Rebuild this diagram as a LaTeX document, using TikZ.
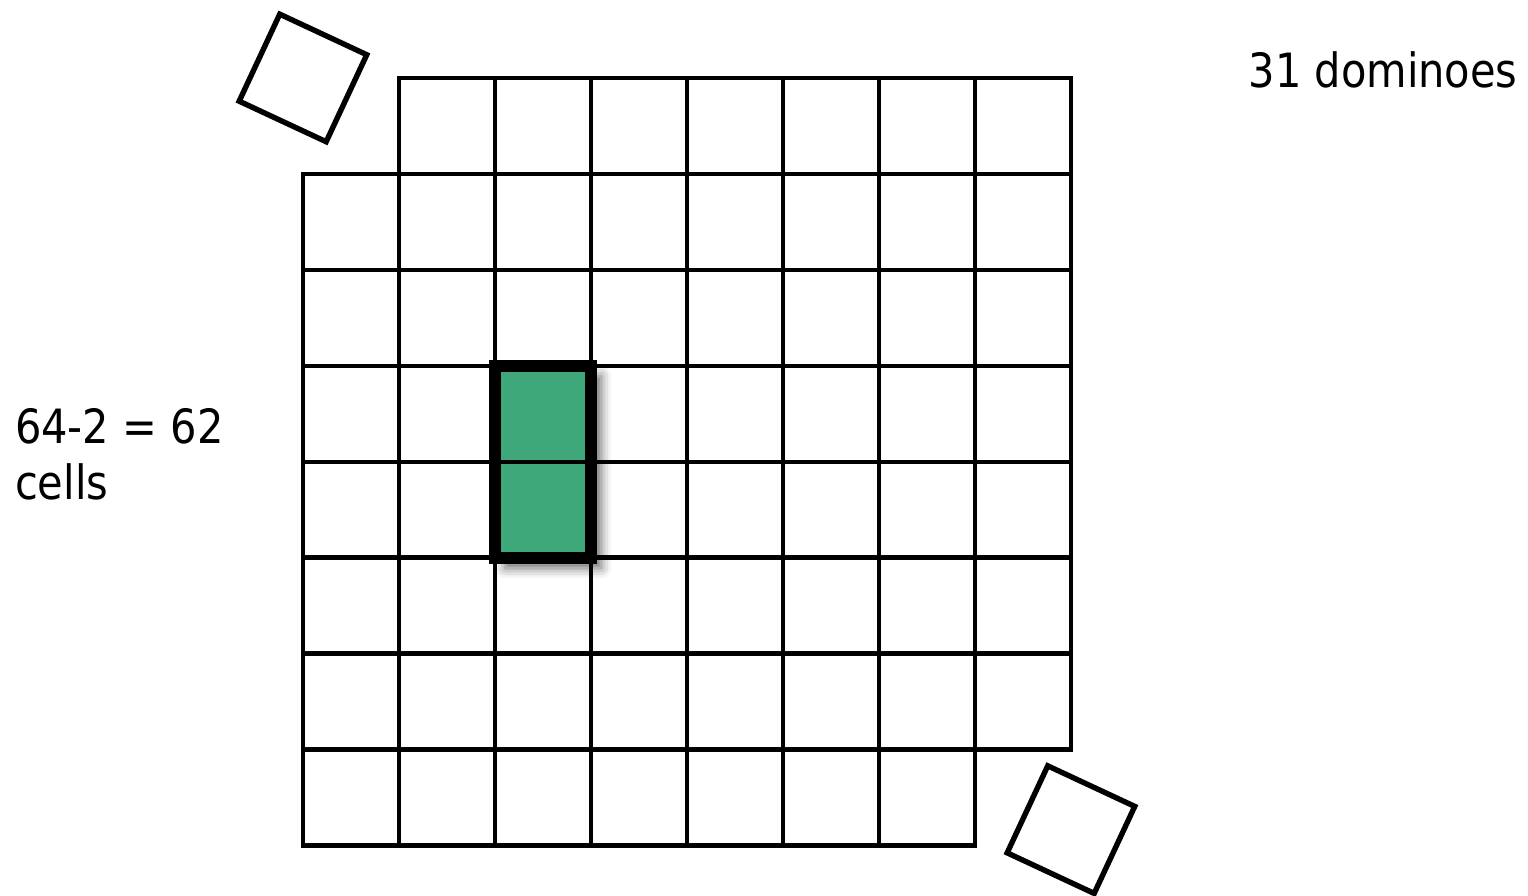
\documentclass[tikz,border=0pt]{standalone}
\usepackage{fontspec}
\setmainfont{DejaVu Sans}[FakeStretch=0.88]
\usetikzlibrary{shadows.blur}
\definecolor{dominogreen}{RGB}{62,168,122}
\tikzset{
  gridline/.style={line width=1.45pt,black,line cap=rect},
  tile/.style={draw=black,line width=1.6pt,minimum size=1cm,inner sep=0pt,
    rotate=-25},
  domino/.style={draw=black,line width=3.6pt,fill=dominogreen,
    blur shadow={shadow xshift=3pt,shadow yshift=-3pt,shadow blur radius=3pt,
      shadow opacity=60}},
  caption/.style={font=\fontsize{14}{16.8}\selectfont,inner sep=0pt,align=left}
}

\begin{document}
\begin{tikzpicture}
  \useasboundingbox (0,0) rectangle (15.917,9.333);
  \node[caption,anchor=base west] (count) at (13.0,8.417) {31 dominoes};
  \node[caption,anchor=base west] (cells) at (0.15,4.125) {64-2 = 62\\cells};
  \begin{scope}[shift={(3.156,0.521)}]
    % board without two corners
    \foreach \y in {1,...,7}
      \draw[gridline] (0,\y) -- (8,\y);
    \draw[gridline] (1,8) -- (8,8);
    \draw[gridline] (0,0) -- (7,0);
    \foreach \x in {1,...,7}
      \draw[gridline] (\x,0) -- (\x,8);
    \draw[gridline] (0,0) -- (0,7);
    \draw[gridline] (8,1) -- (8,8);
    % the removed cells
    \node[tile] (cutTL) at (0,8) {};
    \node[tile] (cutBR) at (8,0.17) {};
    % one domino
    \draw[domino] (2,3) rectangle (3,5);
    \draw[gridline,line cap=butt] (2,4) -- (3,4);
  \end{scope}
\end{tikzpicture}
\end{document}
